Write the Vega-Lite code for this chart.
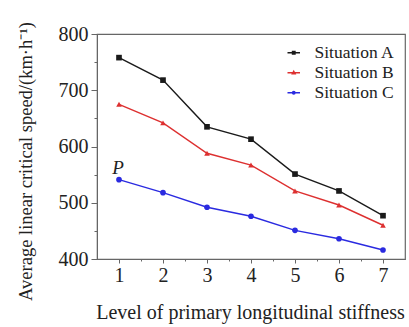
{
  "$schema": "https://vega.github.io/schema/vega-lite/v6.json",
  "width": 308,
  "height": 225,
  "autosize": "none",
  "padding": {"left": 97, "top": 34, "right": 4, "bottom": 68},
  "background": "white",
  "config": {
    "font": "Liberation Serif",
    "view": {"stroke": "#666666", "strokeWidth": 1.2},
    "axis": {"domainColor": "#666666", "tickColor": "#666666", "labelColor": "#222222", "titleColor": "#222222", "grid": false, "labelFont": "Liberation Serif", "titleFont": "Liberation Serif", "titleFontWeight": "normal"},
    "legend": {"labelFont": "Liberation Serif, Times New Roman, serif", "labelFontSize": 17.5, "labelColor": "#222222"}
  },
  "datasets": {
    "pts": [
      {"level": 1, "speed": 758, "series": "Situation A"},
      {"level": 2, "speed": 718, "series": "Situation A"},
      {"level": 3, "speed": 635, "series": "Situation A"},
      {"level": 4, "speed": 613, "series": "Situation A"},
      {"level": 5, "speed": 551, "series": "Situation A"},
      {"level": 6, "speed": 521, "series": "Situation A"},
      {"level": 7, "speed": 477, "series": "Situation A"},
      {"level": 1, "speed": 675, "series": "Situation B"},
      {"level": 2, "speed": 642, "series": "Situation B"},
      {"level": 3, "speed": 588, "series": "Situation B"},
      {"level": 4, "speed": 567, "series": "Situation B"},
      {"level": 5, "speed": 521, "series": "Situation B"},
      {"level": 6, "speed": 496, "series": "Situation B"},
      {"level": 7, "speed": 460, "series": "Situation B"},
      {"level": 1, "speed": 541, "series": "Situation C"},
      {"level": 2, "speed": 518, "series": "Situation C"},
      {"level": 3, "speed": 492, "series": "Situation C"},
      {"level": 4, "speed": 476, "series": "Situation C"},
      {"level": 5, "speed": 451, "series": "Situation C"},
      {"level": 6, "speed": 436, "series": "Situation C"},
      {"level": 7, "speed": 416, "series": "Situation C"}
    ],
    "ann": [{"level": 1, "speed": 541, "label": "P"}]
  },
  "encoding": {
    "x": {
      "field": "level", "type": "quantitative",
      "scale": {"domain": [0.5, 7.5], "nice": false, "zero": false},
      "axis": {
        "values": [1, 1.5, 2, 2.5, 3, 3.5, 4, 4.5, 5, 5.5, 6, 6.5, 7],
        "labelExpr": "datum.value % 1 ? '' : format(datum.value, 'd')",
        "tickSize": {"expr": "datum.value % 1 ? 2 : 4"},
        "labelFontSize": 20, "labelPadding": 2,
        "title": "Level of primary longitudinal stiffness",
        "titleFontSize": 20, "titleY": 59, "titleBaseline": "alphabetic", "titleX": 153
      }
    },
    "y": {
      "field": "speed", "type": "quantitative",
      "scale": {"domain": [400, 800], "nice": false, "zero": false},
      "axis": {
        "values": [400, 450, 500, 550, 600, 650, 700, 750, 800],
        "labelExpr": "datum.value % 100 ? '' : datum.label",
        "tickSize": {"expr": "datum.value % 100 ? 3 : 6"},
        "labelFontSize": 20, "labelPadding": 3,
        "title": "Average linear critical speed/(km·h⁻¹)",
        "titleFontSize": 18.5, "titleX": -62, "titleY": 127, "titleBaseline": "bottom"
      }
    }
  },
  "layer": [
    {
      "data": {"name": "pts"},
      "mark": {"type": "point", "filled": true, "opacity": 0},
      "encoding": {
        "color": {"field": "series", "type": "nominal", "scale": {"domain": ["Situation A", "Situation B", "Situation C"], "range": ["#1a1a1a", "#dd3030", "#2a2ae0"]}, "legend": {
          "title": null, "orient": "top-right", "offset": 6,
          "labelFontSize": 17.5, "labelColor": "#222222", "labelFont": "Liberation Serif, Times New Roman, serif",
          "symbolSize": 100, "symbolOpacity": 1, "symbolStrokeWidth": 1.4,
          "rowPadding": 1, "labelOffset": 12, "padding": 4,
          "labelLimit": 200
        }},
        "stroke": {"field": "series", "type": "nominal", "scale": {"domain": ["Situation A", "Situation B", "Situation C"], "range": ["#1a1a1a", "#dd3030", "#2a2ae0"]}},
        "shape": {"field": "series", "type": "nominal", "scale": {"domain": ["Situation A", "Situation B", "Situation C"], "range": [
          "M-1.25,0H1.25M-0.25,-0.25H0.25V0.25H-0.25Z",
          "M-1.25,0H1.25M0,-0.3L0.28,0.2H-0.28Z",
          "M-1.25,0H1.25M-0.25,0A0.25,0.25 0 1,0 0.25,0A0.25,0.25 0 1,0 -0.25,0Z"
        ]}}
      }
    },
    {
      "data": {"name": "pts"},
      "mark": {"type": "line", "strokeWidth": 1.4},
      "encoding": {
        "color": {"field": "series", "type": "nominal"}
      }
    },
    {
      "data": {"name": "pts"},
      "transform": [{"filter": "datum.series === 'Situation A'"}],
      "mark": {"type": "point", "filled": true, "size": 32, "opacity": 1, "shape": "square"},
      "encoding": {"color": {"field": "series", "type": "nominal"}}
    },
    {
      "data": {"name": "pts"},
      "transform": [{"filter": "datum.series === 'Situation B'"}],
      "mark": {"type": "point", "filled": true, "size": 32, "opacity": 1, "shape": "triangle-up"},
      "encoding": {"color": {"field": "series", "type": "nominal"}}
    },
    {
      "data": {"name": "pts"},
      "transform": [{"filter": "datum.series === 'Situation C'"}],
      "mark": {"type": "point", "filled": true, "size": 32, "opacity": 1, "shape": "circle"},
      "encoding": {"color": {"field": "series", "type": "nominal"}}
    },
    {
      "data": {"name": "ann"},
      "mark": {"type": "text", "fontStyle": "italic", "fontSize": 19, "dy": -12, "dx": -1, "color": "#222222", "font": "Liberation Serif"},
      "encoding": {"text": {"field": "label"}}
    }
  ]
}
